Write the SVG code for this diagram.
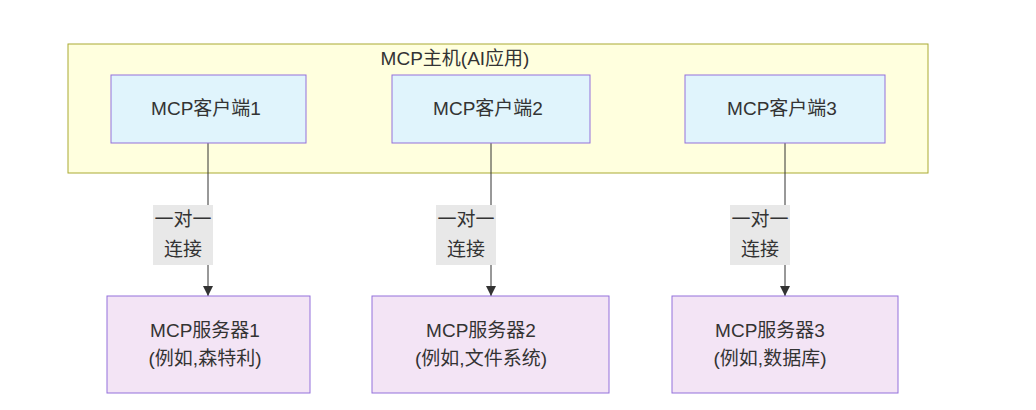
<svg xmlns="http://www.w3.org/2000/svg" width="1036" height="410" viewBox="0 0 1036 410">
  <defs>
    <style>
      text { font-family: "Liberation Sans", "Noto Sans CJK SC", sans-serif; font-size: 19px; fill: #333; text-anchor: middle; dominant-baseline: central; }
      .host { fill: #ffffde; stroke: #aaaa33; stroke-width: 1; }
      .client { fill: #e0f4fc; stroke: #9370db; stroke-width: 1; }
      .server { fill: #f3e4f5; stroke: #9370db; stroke-width: 1; }
      .edge { fill: none; stroke: #333; stroke-width: 1; }
      .label-bg { fill: #e8e8e8; }
    </style>
    <marker id="arrow" viewBox="0 0 10 10" refX="10" refY="5" markerWidth="10" markerHeight="10" markerUnits="userSpaceOnUse" orient="auto">
      <path d="M0,0 L10,5 L0,10 z" fill="#333"/>
    </marker>
  </defs>

  <!-- host container -->
  <g id="host">
    <rect class="host" x="68" y="44" width="860" height="129"/>
    <text x="455" y="58">MCP主机(AI应用)</text>
  </g>

  <!-- connectors -->
  <g id="connectors">
    <path class="edge" d="M208,143 V296" marker-end="url(#arrow)"/>
    <path class="edge" d="M491,143 V296" marker-end="url(#arrow)"/>
    <path class="edge" d="M785,143 V296" marker-end="url(#arrow)"/>
    <g id="label1">
      <rect class="label-bg" x="153" y="205" width="60" height="60"/>
      <text x="183" y="219">一对一</text>
      <text x="183" y="249">连接</text>
    </g>
    <g id="label2">
      <rect class="label-bg" x="436" y="205" width="60" height="60"/>
      <text x="466" y="219">一对一</text>
      <text x="466" y="249">连接</text>
    </g>
    <g id="label3">
      <rect class="label-bg" x="730" y="205" width="60" height="60"/>
      <text x="760" y="219">一对一</text>
      <text x="760" y="249">连接</text>
    </g>
  </g>

  <!-- clients -->
  <g id="client1">
    <rect class="client" x="111" y="75" width="195" height="68"/>
    <text x="206" y="108">MCP客户端1</text>
  </g>
  <g id="client2">
    <rect class="client" x="392" y="75" width="198" height="68"/>
    <text x="488" y="108">MCP客户端2</text>
  </g>
  <g id="client3">
    <rect class="client" x="685" y="75" width="200" height="68"/>
    <text x="782" y="108">MCP客户端3</text>
  </g>

  <!-- servers -->
  <g id="server1">
    <rect class="server" x="107" y="296" width="203" height="97"/>
    <text x="205" y="330">MCP服务器1</text>
    <text x="205" y="358">(例如,森特利)</text>
  </g>
  <g id="server2">
    <rect class="server" x="372" y="296" width="237" height="97"/>
    <text x="481" y="330">MCP服务器2</text>
    <text x="481" y="358">(例如,文件系统)</text>
  </g>
  <g id="server3">
    <rect class="server" x="672" y="296" width="226" height="97"/>
    <text x="770" y="330">MCP服务器3</text>
    <text x="770" y="358">(例如,数据库)</text>
  </g>
</svg>
